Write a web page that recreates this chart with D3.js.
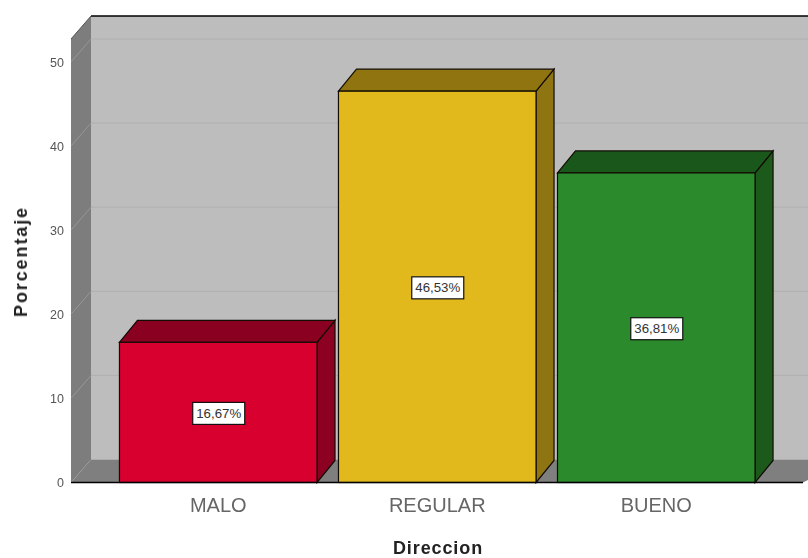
<!DOCTYPE html>
<html><head><meta charset="utf-8">
<script src="https://cdn.jsdelivr.net/npm/d3@7"></script>
<style>
html,body{margin:0;padding:0;background:#fff;overflow:hidden}
svg{display:block;filter:blur(0.6px)}
text{font-family:"Liberation Sans",Arial,sans-serif}
</style></head><body>
<svg id="c" width="808" height="558"></svg>
<script>
const categories = ["MALO","REGULAR","BUENO"];
const percentages = [16.67,46.53,36.81];
const labels = ["16,67%","46,53%","36,81%"];
const frontColors = ["#d8002f","#e2b91c","#2b8a2b"];
const topColors = ["#8a0020","#8f7410","#1a571a"];
const sideColors = ["#8c0022","#8f7512","#1b5a1b"];
const yTicks = [0,10,20,30,40,50];

const svg = d3.select("#c");
const y = d3.scaleLinear().domain([0,50]).range([482.5,62]);
const x = d3.scaleBand().domain(categories).range([108.5,766]).paddingInner(0.098).paddingOuter(0.05);
const wallDX = 20, wallDY = 23, barDX = 18, barDY = 22;
const wallLeft = 71, wallRight = 830, wallTop = 16;

// back wall
svg.append("rect").attr("x",wallLeft+wallDX).attr("y",wallTop).attr("width",wallRight-wallLeft).attr("height",y(0)-wallDY-wallTop).attr("fill","#bdbdbd");
// left wall
svg.append("path").attr("d",d3.line()([[wallLeft,y(0)],[wallLeft,wallTop+23],[wallLeft+wallDX,wallTop],[wallLeft+wallDX,y(0)-wallDY]])).attr("fill","#7d7d7d");
// floor
svg.append("path").attr("d",d3.line()([[wallLeft,y(0)],[wallLeft+wallDX,y(0)-wallDY],[wallRight+wallDX,y(0)-wallDY],[803,y(0)]])).attr("fill","#7f7f7f");
// gridlines
const gridTicks = yTicks.filter(d=>d>0);
svg.selectAll(".g").data(gridTicks).join("line").attr("x1",wallLeft+wallDX).attr("x2",808)
  .attr("y1",d=>y(d)-wallDY).attr("y2",d=>y(d)-wallDY).attr("stroke","#b0b0b0").attr("stroke-width",1);
svg.selectAll(".gs").data(gridTicks).join("line").attr("x1",wallLeft).attr("x2",wallLeft+wallDX)
  .attr("y1",d=>y(d)).attr("y2",d=>y(d)-wallDY).attr("stroke","#979797").attr("stroke-width",1);
// frame lines
svg.append("line").attr("x1",wallLeft+wallDX).attr("x2",808).attr("y1",wallTop).attr("y2",wallTop).attr("stroke","#000").attr("stroke-width",1.4);
svg.append("line").attr("x1",wallLeft).attr("x2",wallLeft+wallDX).attr("y1",wallTop+23).attr("y2",wallTop).attr("stroke","#555").attr("stroke-width",1);

// bars
const stroke = "#120c04";
const bars = svg.selectAll(".bar").data(categories).join("g");
bars.each(function(c,i){
  const g = d3.select(this), x0 = x(c), x1 = x0+x.bandwidth(), yt = y(percentages[i]), yb = y(0);
  g.append("path").attr("d",d3.line()([[x1,yb],[x1,yt],[x1+barDX,yt-barDY],[x1+barDX,yb-barDY]])+"Z").attr("fill",sideColors[i]).attr("stroke",stroke).attr("stroke-width",1.2);
  g.append("path").attr("d",d3.line()([[x0,yt],[x0+barDX,yt-barDY],[x1+barDX,yt-barDY],[x1,yt]])+"Z").attr("fill",topColors[i]).attr("stroke",stroke).attr("stroke-width",1.2);
  g.append("rect").attr("x",x0).attr("y",yt).attr("width",x.bandwidth()).attr("height",yb-yt).attr("fill",frontColors[i]).attr("stroke",stroke).attr("stroke-width",1.2);
  const cx = (x0+x1)/2, cy = (yt+yb)/2 + 1;
  g.append("rect").attr("x",cx-25.5).attr("y",cy-11).attr("width",52).attr("height",22).attr("fill","#fff").attr("stroke","#111").attr("stroke-width",1.2);
  g.append("text").attr("x",cx+0.5).attr("y",cy+4.5).attr("text-anchor","middle").attr("font-size",13).attr("fill","#333").attr("textLength",45).attr("lengthAdjust","spacingAndGlyphs").text(labels[i]);
});

// axis baseline
svg.append("line").attr("x1",wallLeft).attr("x2",803).attr("y1",y(0)).attr("y2",y(0)).attr("stroke","#000").attr("stroke-width",1.6);

// y axis
const yAxis = svg.append("g").attr("transform",`translate(${wallLeft},0)`).call(d3.axisLeft(y).tickValues(yTicks).tickSize(0).tickPadding(7));
yAxis.select(".domain").remove();
yAxis.selectAll("text").attr("font-size",12.5).attr("fill","#555").style("font-family",'"Liberation Sans",Arial,sans-serif');

// x axis
const xAxis = svg.append("g").attr("transform",`translate(0,${y(0)})`).call(d3.axisBottom(x).tickSize(0).tickPadding(15));
xAxis.select(".domain").remove();
xAxis.selectAll("text").attr("font-size",20).attr("fill","#666").style("font-family",'"Liberation Sans",Arial,sans-serif');

// titles
svg.append("text").attr("x",438).attr("y",554).attr("text-anchor","middle").attr("font-size",18).attr("font-weight","bold").attr("letter-spacing",0.9).attr("fill","#222").text("Direccion");
svg.append("text").attr("transform","translate(27,261.5) rotate(-90)").attr("text-anchor","middle").attr("font-size",18).attr("font-weight","bold").attr("letter-spacing",1.9).attr("fill","#222").text("Porcentaje");
</script>
</body></html>
